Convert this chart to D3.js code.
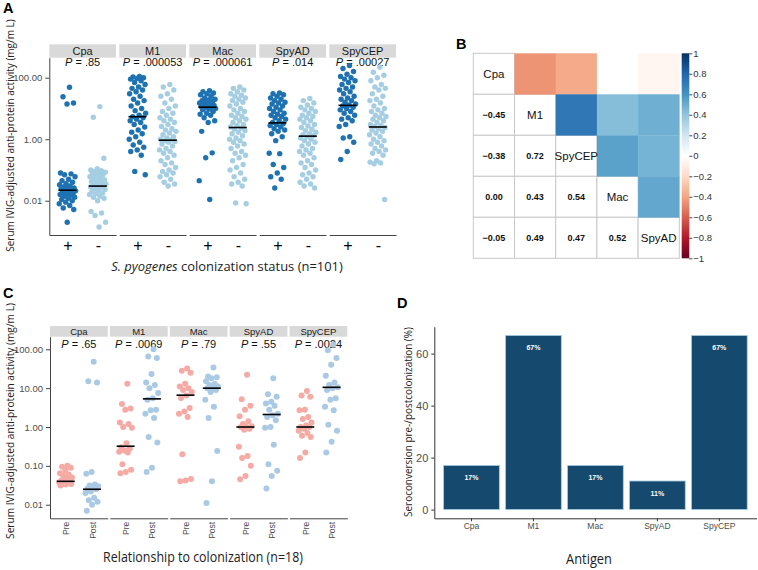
<!DOCTYPE html>
<html><head><meta charset="utf-8">
<script src="https://cdn.jsdelivr.net/npm/d3@7"></script>
<style>body{margin:0;background:#fff}svg{display:block}</style>
</head><body>
<svg id="c" width="758" height="570"></svg>
<script>
// ---------------- DATA ----------------
const antigens = ["Cpa", "M1", "Mac", "SpyAD", "SpyCEP"];

// Panel A: colonization status (+ / -)
const groupsA = ["+", "-"];
const pValuesA = [".85", ".000053", ".000061", ".014", ".00027"];
const mediansAPos = [0.022, 5.4, 11, 3.4, 12.6];
const mediansANeg = [0.030, 0.93, 2.4, 1.26, 2.5];
const aCpaPos = [49, 24, 15, 14, 0.08, 0.075, 0.07, 0.06, 0.05, 0.045, 0.04, 0.036, 0.033, 0.03, 0.028, 0.026, 0.025, 0.024, 0.023, 0.022, 0.021, 0.02, 0.019, 0.018, 0.017, 0.016, 0.015, 0.014, 0.013, 0.012, 0.011, 0.01, 0.009, 0.008, 0.007, 0.0058, 0.0052, 0.002];
const aCpaNeg = [11.5, 5.2, 0.24, 0.11, 0.1, 0.095, 0.09, 0.085, 0.08, 0.075, 0.07, 0.065, 0.06, 0.056, 0.052, 0.048, 0.045, 0.042, 0.04, 0.037, 0.035, 0.033, 0.031, 0.03, 0.029, 0.028, 0.027, 0.025, 0.023, 0.021, 0.02, 0.018, 0.017, 0.016, 0.014, 0.013, 0.012, 0.01, 0.0045, 0.004, 0.0033, 0.002, 0.0014];
const aM1Pos = [110, 105, 100, 95, 90, 80, 70, 60, 50, 45, 40, 35, 30, 25, 20, 18, 15, 12, 10, 8.5, 7, 6, 5.4, 5, 4.5, 4, 3.5, 3, 2.5, 2, 1.7, 1.5, 1.2, 1, 0.8, 0.65, 0.55, 0.45, 0.4, 0.3, 0.09, 0.07];
const aM1Neg = [60, 50, 40, 30, 25, 20, 15, 12, 10, 8, 7, 6, 5, 4.5, 4, 3.5, 3, 2.6, 2.2, 2, 1.8, 1.6, 1.4, 1.2, 1.1, 1, 0.95, 0.9, 0.85, 0.8, 0.7, 0.6, 0.5, 0.45, 0.4, 0.35, 0.3, 0.25, 0.2, 0.17, 0.15, 0.12, 0.1, 0.09, 0.08, 0.07, 0.06, 0.05, 0.04, 0.035, 0.03];
const aMacPos = [38, 35, 32, 30, 28, 25, 22, 20, 19, 18, 17, 16, 15, 14, 13, 12.5, 12, 11.5, 11, 10.5, 10, 9.5, 9, 8, 7, 6.5, 6, 5, 4, 3.5, 1.8, 0.36, 0.25, 0.045, 0.011];
const aMacNeg = [50, 45, 40, 35, 30, 27, 25, 22, 20, 18, 16, 14, 12, 10, 9, 8, 7, 6, 5.5, 5, 4.5, 4, 3.5, 3, 2.8, 2.5, 2.3, 2.1, 1.9, 1.7, 1.5, 1.3, 1.1, 1, 0.9, 0.8, 0.7, 0.6, 0.5, 0.4, 0.35, 0.3, 0.25, 0.2, 0.15, 0.12, 0.1, 0.08, 0.06, 0.05, 0.04, 0.035, 0.03, 0.0085, 0.008];
const aSpyADPos = [32, 30, 28, 25, 22, 20, 18, 16, 15, 14, 12, 11, 10, 9, 8, 7, 6.5, 6, 5.5, 5, 4.5, 4, 3.5, 3.2, 3, 2.8, 2.5, 2.2, 2, 1.8, 1.5, 1.2, 0.9, 0.35, 0.34, 0.15, 0.12, 0.08, 0.06, 0.05, 0.026];
const aSpyADNeg = [21, 18, 15, 13, 11, 10, 9, 8, 7, 6, 5.5, 5, 4.5, 4, 3.5, 3, 2.7, 2.4, 2.1, 1.9, 1.7, 1.5, 1.4, 1.3, 1.2, 1.1, 1, 0.9, 0.8, 0.7, 0.6, 0.5, 0.45, 0.4, 0.35, 0.3, 0.25, 0.2, 0.17, 0.15, 0.12, 0.1, 0.08, 0.07, 0.06, 0.05, 0.04, 0.035, 0.03, 0.026];
const aSpyCEPPos = [250, 200, 160, 130, 110, 100, 90, 80, 70, 60, 50, 45, 40, 35, 30, 25, 22, 20, 18, 16, 14, 13, 12, 11, 10, 9, 8, 7, 6, 5, 4.5, 4, 3, 2.6, 1.2, 1.1, 0.8, 0.4, 0.22];
const aSpyCEPNeg = [220, 150, 120, 100, 80, 60, 50, 45, 40, 30, 25, 20, 18, 15, 12, 10, 9, 8, 7, 6, 5.5, 5, 4.5, 4, 3.5, 3, 2.8, 2.6, 2.4, 2.2, 2, 1.8, 1.6, 1.4, 1.2, 1, 0.9, 0.8, 0.7, 0.6, 0.5, 0.45, 0.4, 0.35, 0.3, 0.2, 0.18, 0.17, 0.16, 0.011];
const yTicksA = [100, 1, 0.01];

// Panel C: pre / post colonization
const groupsC = ["Pre", "Post"];
const pValuesC = [".65", ".0069", ".79", ".55", ".0024"];
const mediansCPre = [0.040, 0.32, 6.6, 1.0, 1.0];
const mediansCPost = [0.025, 5.3, 10, 2.1, 10.5];
const cCpaPre = [0.1, 0.095, 0.09, 0.075, 0.065, 0.06, 0.055, 0.05, 0.045, 0.042, 0.04, 0.039, 0.038, 0.037, 0.035, 0.034, 0.033, 0.031];
const cCpaPost = [48, 15, 14, 0.07, 0.063, 0.033, 0.031, 0.03, 0.028, 0.026, 0.025, 0.022, 0.02, 0.015, 0.013, 0.012, 0.01, 0.007];
const cM1Pre = [13, 3.9, 3, 2.8, 1.3, 1.2, 1, 0.95, 0.38, 0.3, 0.28, 0.25, 0.23, 0.22, 0.11, 0.08, 0.07, 0.065];
const cM1Post = [100, 65, 60, 23, 14, 12, 10, 7.5, 5.5, 5, 2.8, 2.7, 2.2, 1.7, 0.55, 0.4, 0.09, 0.07];
const cMacPre = [32, 28, 25, 13, 11, 10, 9, 8, 6.5, 5.6, 3.1, 2.5, 2.2, 1.8, 0.2, 0.046, 0.042, 0.04];
const cMacPost = [34, 20, 19, 18, 15, 13, 12, 11, 10.5, 10, 9, 8, 5, 3.3, 1.7, 0.24, 0.04, 0.011];
const cSpyADPre = [22, 5.2, 3.5, 2.8, 1.9, 1.4, 1.2, 1.05, 1.02, 1, 0.9, 0.85, 0.31, 0.18, 0.16, 0.1, 0.055, 0.045];
const cSpyADPost = [18, 7, 6, 4.5, 4, 3.5, 2.8, 2.2, 2, 1.8, 1.5, 1, 0.95, 0.35, 0.11, 0.075, 0.055, 0.026];
const cSpyCEPPre = [8.5, 6.5, 6, 2.8, 2.7, 1.8, 1.6, 1.3, 1.1, 1, 1, 0.9, 0.8, 0.7, 0.6, 0.55, 0.22, 0.16];
const cSpyCEPPost = [130, 95, 60, 40, 21, 14, 12, 10.5, 10, 9, 5.5, 5, 3.3, 2.7, 1.15, 0.8, 0.42, 0.22];
const yTicksC = [100, 10, 1, 0.1, 0.01];

// Panel B: correlation matrix (lower triangle, row-wise)
const corrOrder = ["Cpa", "M1", "SpyCEP", "Mac", "SpyAD"];
const corrLower = [[], [-0.45], [-0.38, 0.72], [0.00, 0.43, 0.54], [-0.05, 0.49, 0.47, 0.52]];
const colorbarTicks = [1, 0.8, 0.6, 0.4, 0.2, 0, -0.2, -0.4, -0.6, -0.8, -1];

// Panel D: seroconversion (%)
const seroconversion = [17, 67, 17, 11, 67];
const seroLabels = ["17%", "67%", "17%", "11%", "67%"];
const yTicksD = [0, 20, 40, 60];

// ---------------- DRAW ----------------
const SANS = "'Liberation Sans', Arial, sans-serif";
const TITLE = "'Open Sans', 'Noto Sans', sans-serif";
const svg = d3.select("#c");

function jitter(i) { return (((i + 1) * 0.6180339887) % 1 - 0.5) * 2; }

// title text squeezed horizontally (via transform) to a target length
function title(build, x, y, len, size, rotate) {
  const t = svg.append("text").attr("text-anchor", "middle")
    .attr("font-family", TITLE).attr("font-size", size).attr("fill", "#222");
  if (rotate) t.attr("dy", "0.35em");
  build(t);
  const nat = t.node().getComputedTextLength();
  const s = Math.min(1.2, len / nat);
  t.attr("transform", `translate(${x},${y})` + (rotate ? " rotate(-90)" : "") + ` scale(${s},1)`);
}

function facetPanel(o) {
  const fx = d3.scaleBand().domain(antigens).range([o.x0, o.x1]).paddingInner(o.gap);
  const y = d3.scaleLog().domain(o.yDomain).range([o.bottom, o.top]);
  const g = svg.append("g");
  g.append("g").attr("transform", `translate(${o.x0},0)`)
    .call(d3.axisLeft(y).tickValues(o.yTicks).tickFormat(d3.format(".2f")).tickSize(4).tickSizeOuter(0))
    .call(a => {
      a.select(".domain").attr("stroke", "#444");
      a.selectAll(".tick line").attr("stroke", "#444");
      a.selectAll("text").attr("font-family", SANS).attr("font-size", o.tickFont).attr("fill", "#4d4d4d");
    });
  antigens.forEach((ag, k) => {
    const left = fx(ag), w = fx.bandwidth();
    const ix = d3.scalePoint().domain(o.groups).range([0, w]).padding(0.6);
    const fg = g.append("g").attr("transform", `translate(${left},0)`);
    fg.append("rect").attr("x", 0).attr("y", o.stripTop).attr("width", w)
      .attr("height", o.top - o.stripTop).attr("fill", "#d9d9d9");
    fg.append("text").attr("x", w / 2).attr("y", (o.stripTop + o.top) / 2).attr("dy", "0.35em")
      .attr("text-anchor", "middle").attr("font-family", SANS).attr("font-size", o.stripFont)
      .attr("fill", "#1a1a1a").text(ag);
    const pt = fg.append("text").attr("x", w / 2).attr("y", o.pY).attr("text-anchor", "middle")
      .attr("font-family", SANS).attr("font-size", o.pFont).attr("fill", "#111");
    pt.append("tspan").attr("font-style", "italic").text("P");
    pt.append("tspan").text(" = " + o.pvals[k]);
    const ax = fg.append("g").attr("transform", `translate(0,${o.bottom})`)
      .call(d3.axisBottom(ix).tickSize(0).tickSizeOuter(0).tickPadding(o.xPad));
    ax.select(".domain").attr("stroke", "#444");
    ax.selectAll("text").attr("font-family", SANS).attr("font-size", o.xFont).attr("fill", o.xColor);
    if (o.rotate) {
      ax.selectAll("text").attr("transform", "rotate(-90)").attr("text-anchor", "end")
        .attr("x", -o.xPad).attr("y", 0).attr("dy", "0.35em");
    }
    o.groups.forEach((gr, j) => {
      const vals = o.data[k][j];
      fg.append("g").selectAll("circle").data(vals).join("circle")
        .attr("cx", (d, i) => ix(gr) + jitter(i) * o.jw)
        .attr("cy", d => y(d)).attr("r", o.r).attr("fill", o.colors[j]);
      const m = o.medians[j][k];
      fg.append("line").attr("x1", ix(gr) - o.mw).attr("x2", ix(gr) + o.mw)
        .attr("y1", y(m)).attr("y2", y(m)).attr("stroke", "#000").attr("stroke-width", 1.6);
    });
  });
}

// Panel A
facetPanel({
  x0: 49.3, x1: 396, gap: 0.047, top: 57.7, bottom: 235, stripTop: 44.3,
  yDomain: [0.00077, 447], yTicks: yTicksA, tickFont: 9.5, stripFont: 11, pFont: 11, pY: 66,
  groups: groupsA, xPad: 5, xFont: 16, xColor: "#000", rotate: false,
  pvals: pValuesA, colors: ["#1f72b2", "#a6cee3"], r: 2.7, jw: 8.5, mw: 9,
  medians: [mediansAPos, mediansANeg],
  data: [[aCpaPos, aCpaNeg], [aM1Pos, aM1Neg], [aMacPos, aMacNeg], [aSpyADPos, aSpyADNeg], [aSpyCEPPos, aSpyCEPNeg]]
});

// Panel C
facetPanel({
  x0: 50, x1: 347.3, gap: 0.035, top: 336.7, bottom: 518.3, stripTop: 326,
  yDomain: [0.00447, 211], yTicks: yTicksC, tickFont: 9.5, stripFont: 9.5, pFont: 11, pY: 347.5,
  groups: groupsC, xPad: 3.5, xFont: 8.5, xColor: "#4d4d4d", rotate: true,
  pvals: pValuesC, colors: ["#f5aaa4", "#aac9e4"], r: 3, jw: 7, mw: 9,
  medians: [mediansCPre, mediansCPost],
  data: [[cCpaPre, cCpaPost], [cM1Pre, cM1Post], [cMacPre, cMacPost], [cSpyADPre, cSpyADPost], [cSpyCEPPre, cSpyCEPPost]]
});

// Axis titles A & C
const yTitleAC = "Serum IVIG-adjusted anti-protein activity (mg/m L)";
title(t => t.text(yTitleAC), 9.5, 135.5, 233, 11.5, true);
title(t => t.text(yTitleAC), 9.5, 421, 236, 11.5, true);
title(t => {
  t.append("tspan").attr("font-style", "italic").text("S. pyogenes");
  t.append("tspan").text(" colonization status (n=101)");
}, 227, 271, 232, 13.5, false);
title(t => t.text("Relationship to colonization (n=18)"), 203, 562, 200, 14, false);

// Panel B: correlation matrix
{
  const pal = ["#67001F", "#B2182B", "#D6604D", "#F4A582", "#FDDBC7", "#FFFFFF", "#D1E5F0", "#92C5DE", "#4393C3", "#2166AC", "#053061"];
  const col = d3.scaleLinear().domain(d3.range(11).map(i => -1 + i * 0.2)).range(pal);
  const bx = d3.scaleBand().domain(corrOrder).range([473.3, 679.3]);
  const by = d3.scaleBand().domain(corrOrder).range([53.3, 258.3]);
  const gB = svg.append("g");
  const cells = [];
  corrOrder.forEach((r, i) => corrOrder.forEach((c, j) => cells.push({ r, c, i, j })));
  gB.selectAll("rect.w").data(cells.filter(d => d.i >= d.j)).join("rect")
    .attr("x", d => bx(d.c)).attr("y", d => by(d.r)).attr("width", bx.bandwidth()).attr("height", by.bandwidth())
    .attr("fill", "#fff").attr("stroke", "#c9c9c9").attr("stroke-width", 1);
  gB.selectAll("rect.c").data(cells.filter(d => d.j > d.i)).join("rect")
    .attr("x", d => bx(d.c)).attr("y", d => by(d.r)).attr("width", bx.bandwidth() + 0.3).attr("height", by.bandwidth() + 0.3)
    .attr("fill", d => col(corrLower[d.j][d.i]));
  gB.selectAll("text.lab").data(cells.filter(d => d.i === d.j)).join("text")
    .attr("x", d => bx(d.c) + bx.bandwidth() / 2).attr("y", d => by(d.r) + by.bandwidth() / 2).attr("dy", "0.35em")
    .attr("text-anchor", "middle").attr("font-family", SANS).attr("font-size", 11.5).attr("fill", "#111").text(d => d.r);
  gB.selectAll("text.num").data(cells.filter(d => d.i > d.j)).join("text")
    .attr("x", d => bx(d.c) + bx.bandwidth() / 2).attr("y", d => by(d.r) + by.bandwidth() / 2).attr("dy", "0.35em")
    .attr("text-anchor", "middle").attr("font-family", SANS).attr("font-size", 9).attr("font-weight", "bold")
    .attr("fill", "#111").text(d => d3.format(".2f")(corrLower[d.i][d.j]).replace("-", "\u2212"));
  // colorbar
  const grad = svg.append("defs").append("linearGradient").attr("id", "cb")
    .attr("x1", 0).attr("x2", 0).attr("y1", 1).attr("y2", 0);
  pal.forEach((c, k) => grad.append("stop").attr("offset", k / 10).attr("stop-color", c));
  const cy = d3.scaleLinear().domain([-1, 1]).range([258.3, 53.3]);
  svg.append("rect").attr("x", 681.7).attr("y", cy(1)).attr("width", 7.6).attr("height", cy(-1) - cy(1)).attr("fill", "url(#cb)");
  svg.append("g").attr("transform", "translate(689.3,0)")
    .call(d3.axisRight(cy).tickValues(colorbarTicks).tickFormat(d3.format("~g")).tickSize(3).tickPadding(1))
    .call(a => {
      a.select(".domain").remove();
      a.selectAll(".tick line").attr("stroke", "#444");
      a.selectAll("text").attr("font-family", SANS).attr("font-size", 9.5).attr("fill", "#333");
    });
}

// Panel D: bars
{
  const x = d3.scaleBand().domain(antigens).range([434.3, 756.5]).paddingInner(0.1).paddingOuter(0.15);
  const y = d3.scaleLinear().domain([-3.35, 70.35]).range([518.3, 326.7]);
  const gD = svg.append("g");
  gD.selectAll("rect").data(antigens).join("rect")
    .attr("x", d => x(d)).attr("width", x.bandwidth())
    .attr("y", (d, i) => y(seroconversion[i])).attr("height", (d, i) => y(0) - y(seroconversion[i]))
    .attr("fill", "#15496d").attr("stroke", "#a6cee3").attr("stroke-width", 0.8);
  gD.selectAll("text.bl").data(antigens).join("text")
    .attr("x", d => x(d) + x.bandwidth() / 2).attr("y", (d, i) => y(seroconversion[i]) + 15)
    .attr("text-anchor", "middle").attr("font-family", SANS).attr("font-size", 7).attr("font-weight", "bold")
    .attr("fill", "#fff").text((d, i) => seroLabels[i]);
  gD.append("g").attr("transform", "translate(434.3,0)")
    .call(d3.axisLeft(y).tickValues(yTicksD).tickSize(3).tickSizeOuter(0))
    .call(a => {
      a.select(".domain").attr("stroke", "#333");
      a.selectAll(".tick line").attr("stroke", "#333");
      a.selectAll("text").attr("font-family", SANS).attr("font-size", 11).attr("fill", "#4d4d4d");
    });
  gD.append("g").attr("transform", "translate(0,518.3)")
    .call(d3.axisBottom(x).tickSize(3).tickSizeOuter(0).tickPadding(2))
    .call(a => {
      a.select(".domain").attr("stroke", "#333");
      a.selectAll(".tick line").attr("stroke", "#333");
      a.selectAll("text").attr("font-family", SANS).attr("font-size", 8.5).attr("fill", "#4d4d4d");
    });
  title(t => t.text("Antigen"), 589, 564, 46, 14, false);
  title(t => t.text("Seroconversion pre-/postcolonization (%)"), 408.5, 422, 190, 11, true);
}

// Panel letters
[["A", 3, 12.5], ["B", 456, 48.5], ["C", 3, 298], ["D", 397, 308]].forEach(([t, x, y]) =>
  svg.append("text").attr("x", x).attr("y", y).attr("font-family", SANS).attr("font-weight", "bold")
    .attr("font-size", 14.5).attr("fill", "#000").text(t));
</script>
</body></html>
